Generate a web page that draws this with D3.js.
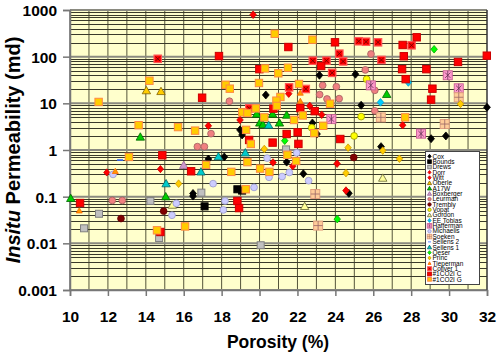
<!DOCTYPE html>
<html><head><meta charset="utf-8">
<script src="https://cdn.jsdelivr.net/npm/d3@7"></script>
<style>body{margin:0;background:#fff}svg{display:block}</style>
</head><body>
<script>
// ---- data (porosity %, permeability md) ----
const xTicks = [10,12,14,16,18,20,22,24,26,28,30,32];
const yTicks = [0.001,0.01,0.1,1,10,100,1000];
const yTickLabels = ["0.001","0.01","0.1","1","10","100","1000"];
const seriesNames = ["Cox","Bounds","Drews","Dorr","Witt","Oberle","A17W","Boxberger","Leurman","Trembly","Vopat","Gordon","EE Tobias","Hafferman","Michaelis","Soeken","Sellens 2","Sellens 1","Oeser","Princ","Tieperman","Collver 1","#1CO2I C","#1CO2I G"];

const cox = [[23.16,40],[25.06,42],[20.33,15.1],[25.36,9.1],[32.0,8.2],[22.79,3.8],[18.97,2.7],[19.08,2.1],[23.03,2.2],[29.05,1.75],[29.83,2.0],[26.41,1.18],[17.3,0.64],[18.14,0.71],[21.43,0.55],[22.31,0.31],[16.49,0.117],[16.49,0.103],[24.71,0.118]];
const bounds = [[18.83,0.144],[19.08,0.135],[17.1,0.062]];
const drews = [[21.4,1.03],[16.93,0.122],[10.74,0.021],[11.53,0.043],[14.24,0.081],[14.7,0.013],[20.06,0.0091]];
const dorr = [[11.94,0.33],[14.77,0.39]];
const witt = [[19.66,793],[21.54,16.1],[22.65,8.8],[23.28,5.7],[18.97,4.4],[17.3,3.3],[27.55,3.4],[24.09,0.51],[20.71,0.54],[21.75,0.45],[24.56,0.135]];
const oberle = [[14.03,18.7],[14.8,18]];
const a17w = [[13.71,1.9],[19.85,5.9],[20.69,5.9],[21.43,5.6],[20.01,3.8],[20.18,3.5],[21.05,3.8],[26.71,15.6],[10.04,0.092],[15.05,0.1]];
const boxberger = [[16.0,0.47]];
const leurman = [[25.88,114],[25.58,52],[23.33,24.3],[24.05,22.7],[23.17,15.4],[23.56,12.4],[24.2,12.6],[26.08,19],[26.08,6.9],[17.44,2.24],[16.72,1.18],[17.09,1.18],[18.41,11.1],[12.23,0.083],[12.76,0.083]];
const trembly = [[24.97,0.69],[14.94,0.049],[12.69,0.034]];
const vopat = [[25.65,33],[22.75,3.0],[24.99,2.0],[25.36,5.2]];
const gordon = [[26.5,0.25],[22.38,0.062],[15.4,0.066]];
const eeTobias = [[27.85,28],[26.38,10.5]];
const hafferman = [[25.87,24.3],[23.79,4.6],[29.93,40],[30.51,21],[28.52,2.24]];
const michaelis = [[21.96,0.87],[20.4,0.67],[12.27,0.30],[17.55,0.19],[15.61,0.072],[15.38,0.04],[21.19,0.27],[21.57,0.33],[20.5,0.26],[22.59,0.22],[19.71,0.158],[18.18,0.081],[18.09,0.052]];
const soeken = [[30.51,13.5],[26.4,5.0],[29.77,3.6],[22.94,0.114],[23.09,0.024]];
const sellens2 = [[12.64,0.61]];
const sellens1 = [[20.48,3.4],[17.83,0.72],[19.25,0.87],[16.91,0.34],[15.07,0.19]];
const oeser = [[29.21,144],[21.33,1.58],[24.1,0.033]];
const princ = [[24.67,1.12],[20.25,1.05],[30.6,9.7],[26.5,0.97],[27.38,0.65],[15.73,0.19],[24.56,0.32]];
const tieperman = [[22.15,16.7],[22.15,11.1],[12.39,0.35],[10.49,0.05]];
const collver1 = [[14.63,90],[25.23,214],[25.62,209],[26.25,203],[24.21,116],[22.81,82],[23.53,82],[24.41,79],[23.83,45],[21.56,22],[22.44,20.3],[19.46,7.8],[26.43,85],[28.02,175]];
const co2iC = [[16.97,13.2],[17.86,103],[21.52,161],[23.98,203],[23.25,63],[19.99,54],[28.29,260],[27.55,178],[31.99,105],[27.61,102],[30.47,77],[27.52,54],[28.8,54],[27.71,33],[29.12,20.6],[29.05,12],[20.73,7.7],[22.15,7.9],[22.91,6.8],[22.01,2.4],[21.43,2.2],[19.45,1.64],[22.05,1.35],[20.69,1.44],[24.26,1.72],[14.87,0.77],[16.39,0.35],[10.53,0.073],[18.83,0.081],[18.92,0.057],[14.77,0.0175]];
const co2iG = [[14.19,30.5],[11.51,10.7],[13.62,3.4],[15.70,3.1],[16.6,2.6],[20.8,310],[22.79,231],[20.29,56],[20.99,44],[21.5,58],[19.97,27.3],[22.08,26],[18.21,25],[18.43,20.6],[21.1,13.7],[20.89,11.4],[20.91,8.8],[23.72,9.8],[19.8,7.8],[19.09,6.4],[19.36,6.2],[20.25,5.0],[21.82,4.4],[22.28,5.5],[23.36,3.3],[22.89,2.3],[19.29,2.7],[19.54,1.35],[27.68,5.0],[19.36,0.55],[21.47,0.79],[21.93,0.58],[20.03,0.40],[20.52,0.34],[18.51,0.34],[19.27,0.144],[13.11,0.71],[17.18,0.48],[14.59,0.019],[16.07,0.023]];

const seriesData = [cox,bounds,drews,dorr,witt,oberle,a17w,boxberger,leurman,trembly,vopat,gordon,eeTobias,hafferman,michaelis,soeken,sellens2,sellens1,oeser,princ,tieperman,collver1,co2iC,co2iG];

// marker styles (shape, size, fill, stroke)
const styles = [
 {s:"diamond",r:4,f:"#000",k:"#000"},
 {s:"square",r:3.5,f:"#000",k:"#000"},
 {s:"square",r:3.5,f:"#c0c0c0",k:"#808080"},
 {s:"diamond",r:3.6,f:"#ff0000",k:"#cc0000"},
 {s:"diamond",r:3.8,f:"#ff0000",k:"#cc0000"},
 {s:"triangle",r:4.2,f:"#ffcc00",k:"#806000"},
 {s:"triangle",r:4.2,f:"#00cc00",k:"#006600"},
 {s:"triangle",r:4.2,f:"#cc99cc",k:"#996699"},
 {s:"circle",r:3.4,f:"#f08080",k:"#a06060"},
 {s:"circle",r:3.4,f:"#800000",k:"#600000"},
 {s:"circle",r:3.4,f:"#ffff00",k:"#999900"},
 {s:"triangle",r:4.2,f:"#ffff99",k:"#666633"},
 {s:"diamond",r:3.8,f:"#00ccff",k:"#0099cc"},
 {s:"haff",r:4.5,f:"#ff99cc",k:"#cc6699"},
 {s:"circle",r:3.4,f:"#ccccff",k:"#9999cc"},
 {s:"soek",r:4.5,f:"#ffcc99",k:"#e0a080"},
 {s:"dash",r:3,f:"#3366ff",k:"#3366ff"},
 {s:"triangle",r:4.2,f:"#00cccc",k:"#006666"},
 {s:"diamond",r:3.8,f:"#00ff00",k:"#00aa00"},
 {s:"diamond",r:3.8,f:"#ffcc00",k:"#cc9900"},
 {s:"triangle",r:3,f:"#ff9900",k:"#ff6600"},
 {s:"collver",r:3.7,f:"#ff0000",k:"#ff5555"},
 {s:"square",r:3.7,f:"#ff0000",k:"#cc0000"},
 {s:"square",r:3.7,f:"#ffcc00",k:"#ff8844"}
];

const W=500,H=355;
const L=70,R=487,T=10,B=290;
const svg=d3.select("body").append("svg").attr("width",W).attr("height",H);
const x=d3.scaleLinear().domain([10,32]).range([L,R]);
const y=d3.scaleLog().domain([0.001,1000]).range([B,T]);

svg.append("rect").attr("x",L).attr("y",T).attr("width",R-L).attr("height",B-T).attr("fill","#ffffcc");

// vertical grid every 1%
const vg=d3.range(11,32);
svg.append("g").selectAll("line").data(vg).join("line")
 .attr("x1",d=>x(d)).attr("x2",d=>x(d)).attr("y1",T).attr("y2",B)
 .attr("stroke","#55553a").attr("stroke-width",1);
// horizontal minor grid
const minor=[];
for(let e=-3;e<3;e++){for(let m=2;m<=9;m++)minor.push(m*Math.pow(10,e));}
svg.append("g").selectAll("line").data(minor).join("line")
 .attr("x1",L).attr("x2",R).attr("y1",d=>Math.round(y(d))+0.5).attr("y2",d=>Math.round(y(d))+0.5)
 .attr("stroke","#3a3a2a").attr("stroke-width",1);
svg.append("g").selectAll("line").data(yTicks).join("line")
 .attr("x1",L).attr("x2",R).attr("y1",d=>y(d)).attr("y2",d=>y(d))
 .attr("stroke","#8a8a80").attr("stroke-width",2);
// frame
svg.append("line").attr("x1",R).attr("x2",R).attr("y1",T).attr("y2",B).attr("stroke","#333").attr("stroke-width",1.5);
svg.append("line").attr("x1",L).attr("x2",L).attr("y1",T).attr("y2",B).attr("stroke","#666").attr("stroke-width",1.5);

// axes
const yAxis=d3.axisLeft(y).tickValues(yTicks).tickSize(7).tickPadding(6).tickFormat((d,i)=>yTickLabels[i]);
const gy=svg.append("g").attr("transform",`translate(${L},0)`).call(yAxis);
const xAxis=d3.axisBottom(x).tickValues(xTicks).tickSize(6).tickPadding(15).tickFormat(d3.format("d"));
const gx=svg.append("g").attr("transform",`translate(0,${B})`).call(xAxis);
[gx,gy].forEach(g=>{
 g.select(".domain").attr("stroke","#777").attr("stroke-width",1.5);
 g.selectAll(".tick line").attr("stroke","#777").attr("stroke-width",1.5);
 g.selectAll("text").attr("font-family","Liberation Sans, Arial, sans-serif").attr("font-weight","bold").attr("font-size",15.5).attr("fill","#000");
});
gy.selectAll("text").attr("dy","0.36em");

svg.append("text").attr("x",278).attr("y",348).attr("text-anchor","middle")
 .attr("font-family","Liberation Sans, Arial, sans-serif").attr("font-weight","bold").attr("font-size",17.5).text("Porosity (%)");
const yt=svg.append("text").attr("transform","translate(19.5,150) rotate(-90)").attr("text-anchor","middle")
 .attr("font-family","Liberation Sans, Arial, sans-serif").attr("font-weight","bold").attr("font-size",20);
yt.append("tspan").attr("font-style","italic").text("Insitu");
yt.append("tspan").text(" Permeability (md)");

function marker(g,st,cx,cy,scale){
 const r=st.r*scale;
 if(st.s==="circle"){
  g.append("circle").attr("cx",cx).attr("cy",cy).attr("r",r).attr("fill",st.f).attr("stroke",st.k).attr("stroke-width",0.8);
 } else if(st.s==="diamond"){
  g.append("path").attr("d",`M${cx},${cy-r}L${cx+r*0.85},${cy}L${cx},${cy+r}L${cx-r*0.85},${cy}Z`).attr("fill",st.f).attr("stroke",st.k).attr("stroke-width",0.8);
 } else if(st.s==="triangle"){
  g.append("path").attr("d",`M${cx},${cy-r}L${cx+r},${cy+r*0.75}L${cx-r},${cy+r*0.75}Z`).attr("fill",st.f).attr("stroke",st.k).attr("stroke-width",0.8);
 } else if(st.s==="dash"){
  g.append("rect").attr("x",cx-r).attr("y",cy-0.8*scale).attr("width",2*r).attr("height",1.6*scale).attr("fill",st.f);
 } else {
  g.append("rect").attr("x",cx-r).attr("y",cy-r).attr("width",2*r).attr("height",2*r).attr("fill",st.f).attr("stroke",st.k).attr("stroke-width",st.s==="collver"?1.2:1);
  const q=r*0.6;
  if(st.s==="haff"){
   g.append("path").attr("d",`M${cx-q},${cy-q}L${cx+q},${cy+q}M${cx+q},${cy-q}L${cx-q},${cy+q}M${cx},${cy-r}L${cx},${cy+r}`).attr("stroke","#663355").attr("stroke-width",0.8*scale);
  } else if(st.s==="soek"){
   g.append("path").attr("d",`M${cx-r},${cy}L${cx+r},${cy}M${cx},${cy-r}L${cx},${cy+r}`).attr("stroke","#996666").attr("stroke-width",0.8*scale);
  } else if(st.s==="collver"){
   g.append("path").attr("d",`M${cx-q},${cy-q}L${cx+q},${cy+q}M${cx+q},${cy-q}L${cx-q},${cy+q}`).attr("stroke","#660000").attr("stroke-width",0.8*scale);
  }
 }
}

const pts=svg.append("g");
seriesData.forEach((arr,i)=>{
 arr.forEach(d=>marker(pts,styles[i],x(d[0]),y(d[1]),1));
});

// legend
const lg=svg.append("g");
lg.append("rect").attr("x",425.5).attr("y",151.5).attr("width",54).attr("height",133).attr("fill","#fff").attr("stroke","#444").attr("stroke-width",1);
seriesNames.forEach((n,i)=>{
 const cy=156.3+i*5.35;
 marker(lg,styles[i],429.5,cy,0.5);
 lg.append("text").attr("x",432.5).attr("y",cy).attr("dy","0.35em").attr("font-family","Liberation Sans, Arial, sans-serif").attr("font-size",6.5).attr("fill","#000").text(n);
});
</script>
</body></html>
